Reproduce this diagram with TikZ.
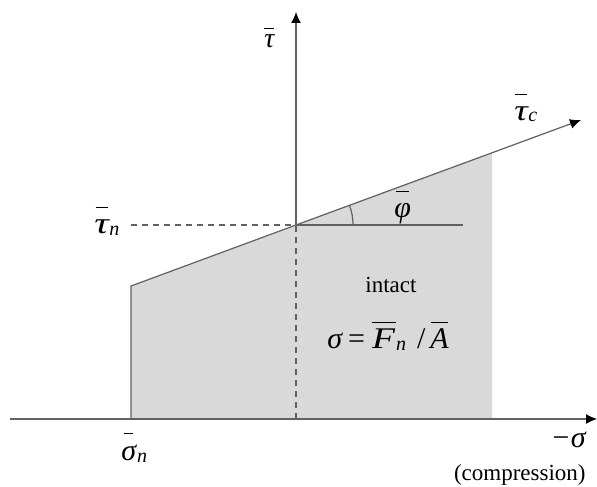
\documentclass[tikz,border=0pt]{standalone}
\usepackage{fontspec}
\setmainfont{Liberation Serif}
\usetikzlibrary{arrows.meta}
% bar over a glyph: [raise]{bar width}{glyph}
\newcommand{\ovl}[3][12.5pt]{\setbox0=\hbox{#3}\rlap{\hbox to \wd0{\hss\raisebox{#1}{\rule{#2}{0.5pt}}\hss}}\box0}
\newcommand{\sbn}[1]{\raisebox{-1pt}{\fontsize{10}{10}\selectfont\itshape #1}}
\begin{document}
\begin{tikzpicture}[x=0.5pt,y=-0.5pt,
  axisline/.style={draw=black!62, line width=0.6pt},
  arrowline/.style={axisline, -{Latex[length=5.5pt,width=5pt,color=black]}},
  dashline/.style={axisline, dash pattern=on 3pt off 2.5pt},
  shaded/.style={fill=black!15},
  greek/.style={inner sep=0pt, anchor=base west, font=\fontsize{15}{15}\selectfont\itshape},
  plain/.style={inner sep=0pt, anchor=base west, font=\fontsize{11.5}{12}\selectfont}]
\useasboundingbox (0,0) rectangle (597,486);
% key points
\coordinate (O) at (296,225);
\coordinate (L) at (131,286);
\coordinate (Lb) at (131,419);
\coordinate (R) at (492,152.6);
\coordinate (Rb) at (492,419);
\coordinate (Ctip) at (581,120);
\coordinate (Vtop) at (296,12);
\coordinate (Vbot) at (296,419);
\coordinate (Hleft) at (10,419);
\coordinate (Hright) at (597,419);
\coordinate (Hend) at (463,225);
\coordinate (Dleft) at (131,225);
% shaded intact region
\fill[shaded] (Lb) -- (L) -- (O) -- (R) -- (Rb) -- cycle;
% envelope
\draw[axisline] (Lb) -- (L) -- (O);
\draw[arrowline] (O) -- (Ctip);
% axes
\draw[arrowline] (Hleft) -- (Hright);
\draw[arrowline] (O) -- (Vtop);
\draw[dashline] (Vbot) -- (O);
\draw[dashline] (Dleft) -- (O);
\draw[axisline] (O) -- (Hend);
% angle
\draw[axisline] (O) ++(28.5pt,0) arc[start angle=0, end angle=20.3, radius=28.5pt];
% labels
\node[greek, font=\fontsize{14}{14}\selectfont\itshape] (tau) at (264,48) {\ovl[9.5pt]{5pt}{τ}};
\node[greek] (tauc) at (514,120) {\ovl{6pt}{\scalebox{1.25}[1]{τ}}\hspace{0.3pt}\sbn{c}};
\node[greek] (taun) at (94,233) {\ovl{6pt}{\scalebox{1.35}[1]{τ}}\hspace{0.3pt}\sbn{n}};
\node[greek] (phi) at (394,217) {\ovl{6.5pt}{φ}};
\node[greek] (sign) at (121,460) {\ovl[13pt]{4.5pt}{σ}\hspace{0.5pt}\sbn{n}};
\node[greek, anchor=base east] (msig) at (586,447) {−σ};
\node[plain, anchor=base east] (comp) at (586,480) {(compression)};
\node[plain] (intact) at (365,292) {intact};
\node[greek] (formula) at (327,348)
  {σ\hspace{3pt}{\upshape =}\hspace{3.5pt}\ovl{12pt}{\scalebox{1.25}[1]{F}}\hspace{0.5pt}\sbn{n}\hspace{5.5pt}{\upshape /}\hspace{2.5pt}\ovl{8.5pt}{A}};
\end{tikzpicture}
\end{document}
